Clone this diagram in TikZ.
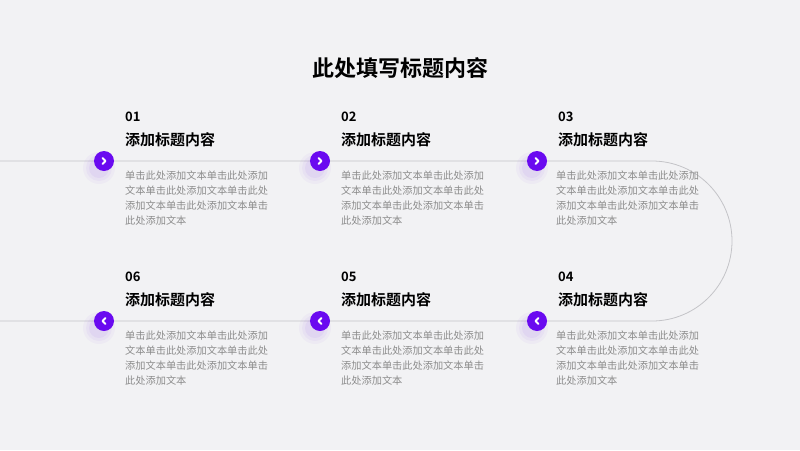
\documentclass[tikz,border=0pt]{standalone}
\usepackage{fontspec}
\setmainfont{Noto Sans CJK SC}
\newfontfamily\cjkb{Noto Sans CJK SC Bold}
\usetikzlibrary{calc}
\definecolor{bg}{HTML}{F2F2F4}
\definecolor{pur}{HTML}{6A0AF0}
\definecolor{gline}{HTML}{C4C4C8}
\definecolor{gtxt}{HTML}{8C8C8C}
\begin{document}
\begin{tikzpicture}[x=1pt,y=-1pt,
  dot/.style={circle,fill=pur,minimum size=20pt,inner sep=0pt},
  num/.style={anchor=west,inner sep=0pt,font=\cjkb\fontsize{13}{13}\selectfont},
  ttl/.style={anchor=west,inner sep=0pt,font=\cjkb\fontsize{15}{15}\selectfont},
  body/.style={anchor=north west,inner sep=0pt,align=left,text=gtxt,font=\fontsize{10.2}{15}\selectfont},
  chev/.style={white,line width=1.8pt,line cap=round,line join=round}]
\fill[bg] (0,0) rectangle (800,450);
\useasboundingbox (0,0) rectangle (800,450);
\node[inner sep=0pt,font=\cjkb\fontsize{22}{22}\selectfont] (title) at (400,68) {此处填写标题内容};
\coordinate (l1) at (0,161);
\coordinate (l2) at (0,321);
\coordinate (ar) at (652,161);
\draw[gline,line width=0.8pt] (l1) -- (ar) arc[start angle=-90,end angle=90,radius=80] -- (l2);
\foreach \x/\y/\n/\d/\k in {104/161/01/1/a,320/161/02/1/b,537/161/03/1/c,104/321/06/-1/f,320/321/05/-1/e,537/321/04/-1/d}{
  \foreach \r/\o in {16/0.03,13/0.04,10/0.05}{\fill[pur,opacity=\o] (\x-5,\y+7) circle (\r);}
  \node[dot] (c\k) at (\x,\y) {};
  \draw[chev] ($(c\k)+(-1.5*\d,-3)$) -- ($(c\k)+(1.5*\d,0)$) -- ($(c\k)+(-1.5*\d,3)$);
  \node[num] (n\k) at (\x+21,\y-44) {\n};
  \node[ttl] (t\k) at (\x+21,\y-21) {添加标题内容};
}
\foreach \x/\y/\k in {125/171/a,341/171/b,556/171/c,125/331/f,341/331/e,556/331/d}{
  \node[body] (b\k) at (\x,\y) {单击此处添加文本单击此处添加\\文本单击此处添加文本单击此处\\添加文本单击此处添加文本单击\\此处添加文本};
}
\end{tikzpicture}
\end{document}
